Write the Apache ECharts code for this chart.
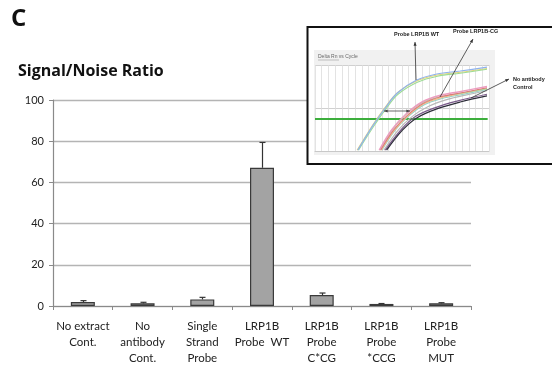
<!DOCTYPE html>
<html><head><meta charset="utf-8">
<script src="https://cdn.jsdelivr.net/npm/echarts@6/dist/echarts.min.js"></script>
<style>html,body{margin:0;padding:0;background:#fff}#c{width:552px;height:370px}</style>
</head><body><div id="c"></div>
<script>
// ---- main bar chart data ----
const categories = ['No extract\nCont.', 'No\nantibody\nCont.', 'Single\nStrand\nProbe', 'LRP1B\nProbe  WT', 'LRP1B\nProbe\nC*CG', 'LRP1B\nProbe\n*CCG', 'LRP1B\nProbe\nMUT'];
const values = [1.9, 1.3, 3.2, 67.1, 5.3, 1.0, 1.3];
const errorTop = [2.6, 1.8, 4.2, 79.4, 6.3, 1.2, 1.6];
const yMin = 0, yMax = 100, yStep = 20;

// ---- inset qPCR curves (cycle, delta Rn) ----
const wtBlue   = [[6.4,0.02],[8.7,0.6],[10.5,1.0],[12.3,1.35],[15.2,1.65],[18.2,1.79],[21.7,1.86],[25.7,1.95]];
const wtGreen  = [[6.5,0.02],[8.8,0.58],[10.6,0.98],[12.4,1.32],[15.3,1.6],[18.3,1.74],[21.7,1.81],[25.7,1.9]];
const wtYellow = [[6.3,0.02],[8.6,0.6],[10.4,1.0],[12.2,1.34],[15.1,1.62],[18.1,1.76],[21.7,1.83],[25.7,1.92]];
const cgPink   = [[9.6,0.02],[11.5,0.5],[13.6,0.86],[16.0,1.14],[18.6,1.29],[21.6,1.38],[25.7,1.5]];
const cgRed    = [[9.8,0.02],[11.7,0.48],[13.8,0.83],[16.2,1.11],[18.8,1.26],[21.7,1.35],[25.7,1.47]];
const cgGreen  = [[9.7,0.02],[11.6,0.5],[13.6,0.85],[16.0,1.12],[18.6,1.26],[21.6,1.34],[25.7,1.45]];
const cgTeal   = [[10.0,0.02],[11.9,0.47],[14.0,0.81],[16.4,1.08],[19.0,1.22],[21.8,1.31],[25.7,1.43]];
const cgOrange = [[9.9,0.02],[11.8,0.47],[13.9,0.82],[16.3,1.1],[18.9,1.24],[21.8,1.33],[25.7,1.45]];
const cgGray   = [[10.3,0.02],[12.4,0.48],[14.5,0.8],[17.0,1.04],[19.8,1.2],[22.5,1.3],[25.7,1.4]];
const noAbBlack  = [[10.7,0.02],[13.1,0.49],[15.2,0.77],[18.2,0.98],[21.7,1.14],[25.7,1.28]];
const noAbPurple = [[10.5,0.02],[12.9,0.5],[15.0,0.8],[18.0,1.01],[21.5,1.17],[25.7,1.32]];
const threshold = 0.744;
const cycleMax = 26;

const chart = echarts.init(document.getElementById('c'), null, {renderer: 'canvas'});
const FONT = 'Lato, "Open Sans", sans-serif';

function curve(data, color, w) {
  return {type: 'line', xAxisIndex: 1, yAxisIndex: 1, data: data, smooth: 0.35,
    showSymbol: false, symbol: 'none', silent: true, zlevel: 2, z: 5,
    lineStyle: {color: color, width: w || 1.1}};
}
function arrowHead(x1, y1, x2, y2, size, color) {
  const a = Math.atan2(y2 - y1, x2 - x1);
  const p1 = [x2 - size * Math.cos(a - 0.4), y2 - size * Math.sin(a - 0.4)];
  const p2 = [x2 - size * Math.cos(a + 0.4), y2 - size * Math.sin(a + 0.4)];
  return {type: 'polygon', zlevel: 2, z: 20, shape: {points: [[x2, y2], p1, p2]}, style: {fill: color}};
}
function arrowLine(x1, y1, x2, y2, color, both) {
  const els = [{type: 'line', zlevel: 2, z: 20, shape: {x1, y1, x2, y2}, style: {stroke: color, lineWidth: 0.8}},
    arrowHead(x1, y1, x2, y2, 4, color)];
  if (both) els.push(arrowHead(x2, y2, x1, y1, 4, color));
  return els;
}

const graphics = [
  {type: 'text', left: 11, top: 7, style: {text: 'C', font: 'bold 24px "Open Sans", sans-serif', fill: '#111'}},
  {type: 'text', left: 18, top: 63, style: {text: 'Signal/Noise Ratio', font: 'bold 16px "Open Sans", sans-serif', fill: '#111'}},
  // inset frame
  {type: 'rect', zlevel: 1, z: 0, shape: {x: 307.5, y: 27, width: 260, height: 137}, style: {fill: '#fff', stroke: '#111', lineWidth: 2}},
  {type: 'rect', zlevel: 1, z: 1, shape: {x: 314, y: 50, width: 181, height: 105}, style: {fill: '#f1f1f1'}},
  {type: 'rect', zlevel: 1, z: 2, shape: {x: 315, y: 65, width: 174, height: 86}, style: {fill: '#fff'}},
  {type: 'text', zlevel: 2, z: 20, left: 318, top: 54, style: {text: 'Delta Rn vs Cycle', font: '5px "Liberation Sans", sans-serif', fill: '#666'}},
  {type: 'line', zlevel: 2, z: 20, shape: {x1: 318, y1: 60, x2: 339, y2: 60}, style: {stroke: '#888', lineWidth: 0.5}},
  {type: 'text', zlevel: 2, z: 20, left: 394, top: 31, style: {text: 'Probe LRP1B WT', font: 'bold 5.5px "Liberation Sans", sans-serif', fill: '#222'}},
  {type: 'text', zlevel: 2, z: 20, left: 453, top: 28, style: {text: 'Probe LRP1B-CG', font: 'bold 5.5px "Liberation Sans", sans-serif', fill: '#222'}},
  {type: 'text', zlevel: 2, z: 20, left: 513, top: 76, style: {text: 'No antibody', font: 'bold 5.5px "Liberation Sans", sans-serif', fill: '#222'}},
  {type: 'text', zlevel: 2, z: 20, left: 513, top: 84, style: {text: 'Control', font: 'bold 5.5px "Liberation Sans", sans-serif', fill: '#222'}}
].concat(arrowLine(416, 80, 415, 42, '#333'))
 .concat(arrowLine(440, 97, 473, 39, '#333'))
 .concat(arrowLine(471, 98, 509, 79, '#333'))
 .concat(arrowLine(384, 111, 410, 111, '#444', true));

chart.setOption({
  animation: false,
  backgroundColor: '#fff',
  textStyle: {fontFamily: FONT},
  graphic: graphics,
  grid: [
    {left: 53, right: 81, top: 100, bottom: 64},
    {left: 315, right: 63, top: 65, bottom: 219, zlevel: 2}
  ],
  xAxis: [
    {type: 'category', data: categories, gridIndex: 0,
      axisLine: {lineStyle: {color: '#8a8a8a', width: 1.2}},
      axisTick: {show: true, length: 4, alignWithLabel: false, lineStyle: {color: '#8a8a8a'}},
      axisLabel: {interval: 0, color: '#222', fontSize: 11.5, lineHeight: 16, margin: 12, fontFamily: FONT}},
    {type: 'value', gridIndex: 1, min: 0, max: cycleMax, interval: 1, zlevel: 2,
      axisLine: {show: true, lineStyle: {color: '#c8c8c8', width: 1}},
      axisTick: {show: false}, axisLabel: {show: false},
      splitLine: {show: true, lineStyle: {color: '#dcdcdc', width: 0.8}}}
  ],
  yAxis: [
    {type: 'value', gridIndex: 0, min: yMin, max: yMax, interval: yStep,
      axisLine: {show: true, lineStyle: {color: '#8a8a8a', width: 1.2}},
      axisTick: {show: true, length: 4, lineStyle: {color: '#8a8a8a'}},
      axisLabel: {color: '#222', fontSize: 11, margin: 9, fontFamily: FONT},
      splitLine: {show: true, lineStyle: {color: '#b4b4b4', width: 1.3}}},
    {type: 'value', gridIndex: 1, min: 0, max: 2, interval: 1, zlevel: 2,
      axisLine: {show: false}, axisTick: {show: false}, axisLabel: {show: false},
      splitLine: {show: true, lineStyle: {color: '#c4c4c4', width: 0.8}}}
  ],
  series: [
    {type: 'bar', xAxisIndex: 0, yAxisIndex: 0, data: values, barWidth: 24,
      itemStyle: {color: '#a3a3a3', borderColor: '#3a3a3a', borderWidth: 1.2}},
    {type: 'custom', xAxisIndex: 0, yAxisIndex: 0, z: 3,
      data: values.map((v, i) => [i, v, errorTop[i]]),
      renderItem: function (params, api) {
        const top = api.coord([api.value(0), api.value(2)]);
        const base = api.coord([api.value(0), api.value(1)]);
        const x = Math.round(top[0]) + 0.5;
        return {type: 'group', children: [
          {type: 'line', shape: {x1: x, y1: base[1], x2: x, y2: top[1]}, style: {stroke: '#333', lineWidth: 1.2}},
          {type: 'line', shape: {x1: x - 3, y1: top[1], x2: x + 3, y2: top[1]}, style: {stroke: '#333', lineWidth: 1.2}}
        ]};
      }},
    curve(cgGray, '#b8b8b8'),
    curve(cgTeal, '#8fd0cc'),
    curve(cgOrange, '#eec28a'),
    curve(cgGreen, '#a6dea0'),
    curve(cgRed, '#e07878'),
    curve(cgPink, '#ec9cc0', 1.5),
    curve(noAbPurple, '#7a5a8a', 1.2),
    curve(noAbBlack, '#2e2e3a', 1.2),
    curve(wtYellow, '#e4d47a'),
    curve(wtGreen, '#9edc96'),
    curve(wtBlue, '#8fb2ee', 1.2),
    {type: 'line', xAxisIndex: 1, yAxisIndex: 1, zlevel: 2, z: 4, silent: true,
      data: [[0, threshold], [25.8, threshold]], symbol: 'circle', symbolSize: [0, 3.5],
      showSymbol: true, itemStyle: {color: '#3cae3c'},
      lineStyle: {color: '#3cae3c', width: 2}}
  ]
});
</script></body></html>
